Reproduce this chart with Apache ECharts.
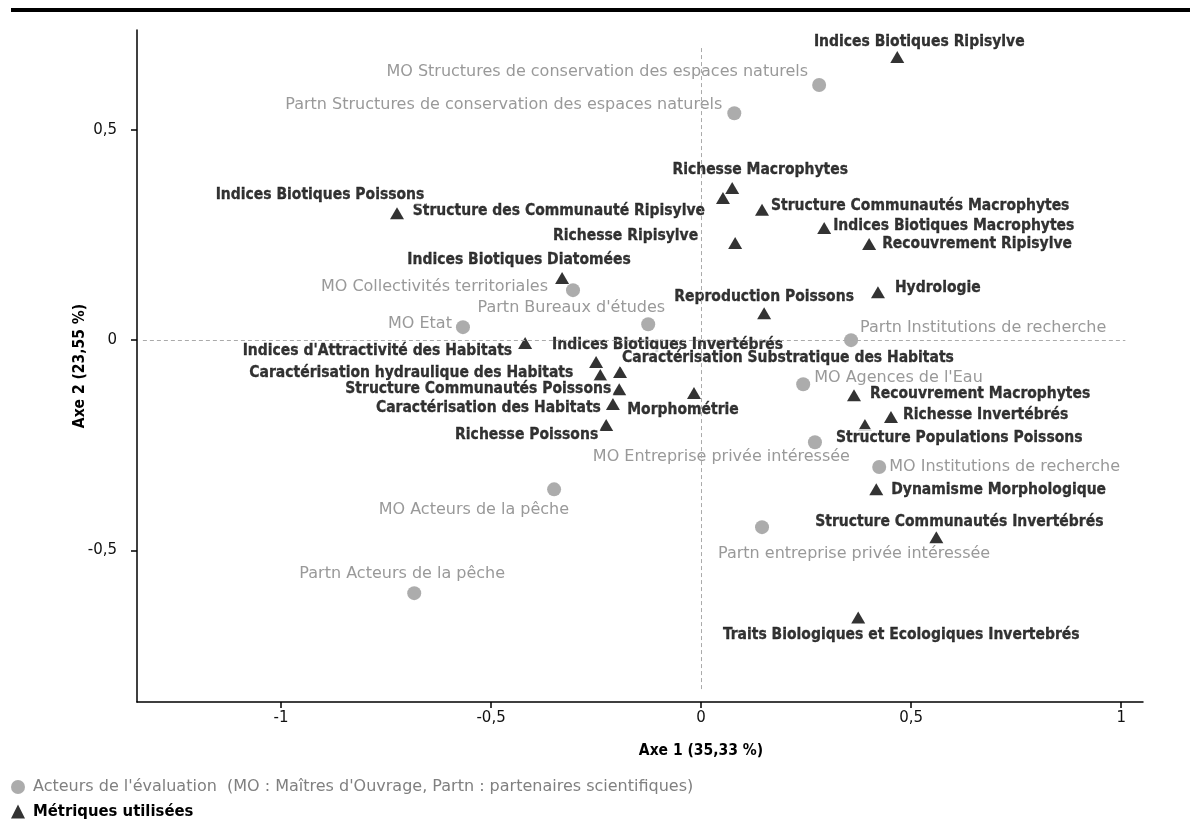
<!DOCTYPE html>
<html>
<head>
<meta charset="utf-8">
<script src="https://cdn.jsdelivr.net/npm/echarts@6/dist/echarts.min.js"></script>
<style>
  html, body { margin: 0; padding: 0; background: #fff; }
  #chart { width: 1190px; height: 831px; }
</style>
</head>
<body>
<div id="chart"></div>
<script>
// Factor map coordinates (axis 1, axis 2)
const actorNames = [
  'MO Structures de conservation des espaces naturels',
  'Partn Structures de conservation des espaces naturels',
  'MO Collectivités territoriales',
  "Partn Bureaux d'études",
  'MO Etat',
  'Partn Institutions de recherche',
  "MO Agences de l'Eau",
  'MO Entreprise privée intéressée',
  'MO Institutions de recherche',
  'MO Acteurs de la pêche',
  'Partn entreprise privée intéressée',
  'Partn Acteurs de la pêche'
];
const actorX = [0.281, 0.079, -0.305, -0.126, -0.567, 0.357, 0.243, 0.271, 0.424, -0.350, 0.145, -0.683];
const actorY = [0.607, 0.540, 0.119, 0.038, 0.031, 0.000, -0.105, -0.243, -0.302, -0.355, -0.445, -0.602];

const metricNames = [
  'Indices Biotiques Ripisylve',
  'Richesse Macrophytes',
  'Structure des Communauté Ripisylve',
  'Structure Communautés Macrophytes',
  'Indices Biotiques Macrophytes',
  'Recouvrement Ripisylve',
  'Richesse Ripisylve',
  'Indices Biotiques Poissons',
  'Indices Biotiques Diatomées',
  'Hydrologie',
  'Reproduction Poissons',
  "Indices d'Attractivité des Habitats",
  'Indices Biotiques Invertébrés',
  'Caractérisation Substratique des Habitats',
  'Caractérisation hydraulique des Habitats',
  'Structure Communautés Poissons',
  'Caractérisation des Habitats',
  'Richesse Poissons',
  'Morphométrie',
  'Recouvrement Macrophytes',
  'Richesse Invertébrés',
  'Structure Populations Poissons',
  'Dynamisme Morphologique',
  'Structure Communautés Invertébrés',
  'Traits Biologiques et Ecologiques Invertebrés'
];
const metricX = [0.467, 0.074, 0.052, 0.145, 0.293, 0.400, 0.081, -0.724, -0.331, 0.421, 0.150, -0.419, -0.250,
                 -0.193, -0.240, -0.195, -0.210, -0.226, -0.017, 0.364, 0.452, 0.390, 0.417, 0.560, 0.374];
const metricY = [0.674, 0.362, 0.338, 0.310, 0.267, 0.229, 0.231, 0.302, 0.148, 0.114, 0.064, -0.007, -0.052,
                 -0.076, -0.083, -0.117, -0.152, -0.202, -0.126, -0.131, -0.183, -0.202, -0.355, -0.469, -0.660];

const xTicks = [-1, -0.5, 0, 0.5, 1];
const yTicks = [-0.5, 0, 0.5];
const xAxisName = 'Axe 1 (35,33 %)';
const yAxisName = 'Axe 2 (23,55 %)';
const actorSeriesName = "Acteurs de l'évaluation  (MO : Maîtres d'Ouvrage, Partn : partenaires scientifiques)";
const metricSeriesName = 'Métriques utilisées';

// Label anchors relative to each symbol centre: [text align, dx, dy]
const actorLabelPlacement = {
  'MO Structures de conservation des espaces naturels': ['right', -11, -13],
  'Partn Structures de conservation des espaces naturels': ['right', -12, -8],
  'MO Collectivités territoriales': ['right', -25, -3],
  "Partn Bureaux d'études": ['right', 17, -16],
  'MO Etat': ['right', -11, -3],
  'Partn Institutions de recherche': ['left', 9, -12],
  "MO Agences de l'Eau": ['left', 11, -6],
  'MO Entreprise privée intéressée': ['right', 35, 15],
  'MO Institutions de recherche': ['left', 10, 0],
  'MO Acteurs de la pêche': ['right', 15, 20],
  'Partn entreprise privée intéressée': ['left', -44, 27],
  'Partn Acteurs de la pêche': ['center', -12, -19]
};
const metricLabelPlacement = {
  'Indices Biotiques Ripisylve': ['center', 22, -15],
  'Richesse Macrophytes': ['center', 28, -18],
  'Structure des Communauté Ripisylve': ['right', -16, 13],
  'Structure Communautés Macrophytes': ['left', 7, -4],
  'Indices Biotiques Macrophytes': ['left', 7, -2],
  'Recouvrement Ripisylve': ['left', 11, 0],
  'Richesse Ripisylve': ['right', -35, -7],
  'Indices Biotiques Poissons': ['center', -77, -18],
  'Indices Biotiques Diatomées': ['center', -43, -18],
  'Hydrologie': ['left', 15, -4],
  'Reproduction Poissons': ['center', 0, -16],
  "Indices d'Attractivité des Habitats": ['right', -11, 8],
  'Indices Biotiques Invertébrés': ['left', -46, -17],
  'Caractérisation Substratique des Habitats': ['left', 0, -14],
  'Caractérisation hydraulique des Habitats': ['right', -25, -2],
  'Structure Communautés Poissons': ['right', -6, 0],
  'Caractérisation des Habitats': ['right', -10, 4],
  'Richesse Poissons': ['right', -6, 10],
  'Morphométrie': ['center', -11, 17],
  'Recouvrement Macrophytes': ['left', 14, -1],
  'Richesse Invertébrés': ['left', 10, -2],
  'Structure Populations Poissons': ['left', -31, 13],
  'Dynamisme Morphologique': ['left', 13, 1],
  'Structure Communautés Invertébrés': ['center', 23, -15],
  'Traits Biologiques et Ecologiques Invertebrés': ['center', 43, 17]
};

const FONT = "'DejaVu Sans', sans-serif";
const FONT_COND = "'DejaVu Sans Condensed', 'DejaVu Sans', sans-serif";
const GREY_TEXT = '#808080';
const GREY_DOT = '#979797';

function placedLabel(place, base) {
  return Object.assign({}, base, {
    show: true,
    position: 'inside',
    align: place[0],
    verticalAlign: 'middle',
    offset: [place[1], place[2]]
  });
}

const actorLabelBase = {
  fontFamily: FONT, fontSize: 16, color: GREY_TEXT, formatter: '{b}',
  textBorderWidth: 0
};
const metricLabelBase = {
  fontFamily: FONT_COND, fontSize: 15.5, fontWeight: 'bold', color: '#000', formatter: '{b}',
  textBorderColor: '#000', textBorderWidth: 0.3,
  backgroundColor: '#fff', padding: [1, 2]
};

const actorData = actorNames.map((n, i) => ({
  name: n, value: [actorX[i], actorY[i]], label: placedLabel(actorLabelPlacement[n], actorLabelBase)
}));
const metricData = metricNames.map((n, i) => ({
  name: n, value: [metricX[i], metricY[i]], label: placedLabel(metricLabelPlacement[n], metricLabelBase)
}));

const commaFmt = v => String(v).replace('.', ',');

const chart = echarts.init(document.getElementById('chart'), null, { renderer: 'canvas' });
chart.setOption({
  animation: false,
  backgroundColor: '#fff',
  textStyle: { fontFamily: FONT },
  graphic: [{
    type: 'rect', left: 11, top: 8, z: 10,
    shape: { width: 1179, height: 4 },
    style: { fill: '#000' }
  }],
  grid: { left: 137, right: 47, top: 30, bottom: 129 },
  xAxis: {
    type: 'value', min: -1.343, max: 1.052,
    name: xAxisName, nameLocation: 'middle', nameGap: 41, nameMoveOverlap: false,
    nameTextStyle: { fontFamily: FONT_COND, fontSize: 15.5, fontWeight: 'bold', color: '#000', padding: [0, 0, 0, 122] },
    axisLine: { onZero: false, lineStyle: { color: '#000', width: 1.5 } },
    axisTick: { show: true, length: 6, customValues: xTicks, lineStyle: { color: '#000', width: 1.5 } },
    axisLabel: { customValues: xTicks, formatter: commaFmt, margin: 9, fontFamily: FONT, fontSize: 15, color: '#111' },
    splitLine: { show: false }
  },
  yAxis: {
    type: 'value', min: -0.861, max: 0.738,
    name: yAxisName, nameLocation: 'middle', nameGap: 49, nameMoveOverlap: false,
    nameTextStyle: { fontFamily: FONT_COND, fontSize: 15.5, fontWeight: 'bold', color: '#000' },
    axisLine: { onZero: false, lineStyle: { color: '#000', width: 1.5 } },
    axisTick: { show: true, length: 6, customValues: yTicks, lineStyle: { color: '#000', width: 1.5 } },
    axisLabel: { customValues: yTicks, formatter: commaFmt, margin: 20, fontFamily: FONT, fontSize: 15, color: '#111' },
    splitLine: { show: false }
  },
  legend: {
    orient: 'vertical', left: 6, top: 774, itemWidth: 14, itemHeight: 14, itemGap: 8,
    selectedMode: false,
    textStyle: { fontFamily: FONT, fontSize: 16, padding: [0, 0, 0, 3] },
    data: [
      { name: actorSeriesName, textStyle: { color: GREY_TEXT } },
      { name: metricSeriesName, textStyle: { color: '#000', fontWeight: 'bold', fontFamily: FONT_COND, fontSize: 16.5 } }
    ]
  },
  series: [
    {
      // dashed reference lines through the origin
      type: 'line', name: 'axes', data: [], z: 1, silent: true,
      markLine: {
        silent: true, symbol: 'none', label: { show: false },
        lineStyle: { color: '#aaa', type: [4, 3], width: 1 },
        data: [
          [{ coord: [0, 0.695] }, { coord: [0, -0.833] }],
          [{ coord: [-1.329, 0] }, { coord: [1.01, 0] }]
        ]
      }
    },
    {
      type: 'scatter', name: actorSeriesName, z: 3,
      symbol: 'circle', symbolSize: 14,
      itemStyle: { color: GREY_DOT },
      data: actorData
    },
    {
      type: 'scatter', name: metricSeriesName, z: 4,
      symbol: 'triangle', symbolSize: [14, 12],
      itemStyle: { color: '#000' },
      data: metricData
    }
  ]
});
</script>
</body>
</html>
